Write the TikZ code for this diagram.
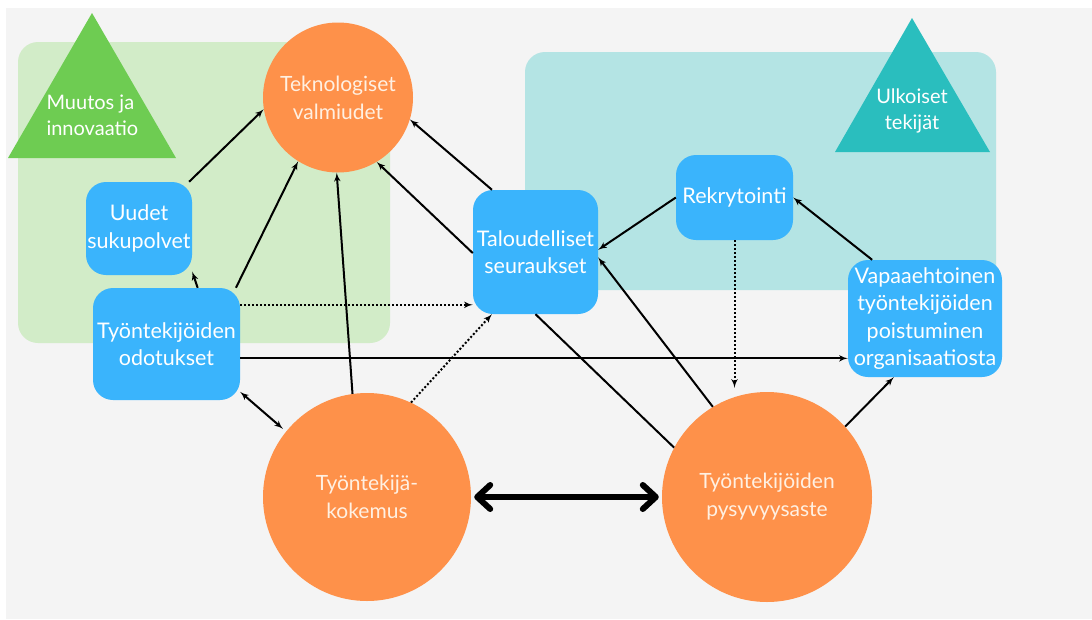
\documentclass[tikz,border=0pt]{standalone}
\usepackage{fontspec}
\setmainfont{Lato}
\usetikzlibrary{shapes,arrows,arrows.meta}

\definecolor{bggray}{RGB}{244,244,244}
\definecolor{areagreen}{RGB}{210,236,200}
\definecolor{areateal}{RGB}{180,228,228}
\definecolor{trigreen}{RGB}{110,204,82}
\definecolor{triteal}{RGB}{42,190,190}
\definecolor{boxblue}{RGB}{58,180,252}
\definecolor{bubbleorange}{RGB}{254,145,74}
\definecolor{bubbletext}{RGB}{255,240,226}

\tikzstyle{block} = [rectangle, fill=boxblue, text=white, rounded corners=20pt,
    align=center, inner sep=0pt, font=\fontsize{21.5}{27.5}\selectfont]
\tikzstyle{bubble} = [circle, fill=bubbleorange, text=bubbletext, align=center,
    inner sep=0pt, font=\fontsize{21}{28}\selectfont]
\tikzstyle{label} = [text=white, font=\fontsize{20}{26}\selectfont]
\tikzstyle{line} = [draw, line width=2pt, -latex']
\tikzstyle{dots} = [line, dotted]
\tikzstyle{both} = [draw, line width=2pt, latex'-latex']
\tikzstyle{bigline} = [draw, line width=6pt,
    {Straight Barb[round, length=13pt, width=24pt]}-{Straight Barb[round, length=13pt, width=24pt]}]

\begin{document}
\begin{tikzpicture}[x=1pt, y=-1pt]

        % Background and areas
        \useasboundingbox (0,0) rectangle (1092,619);
        \fill [white] (0,0) rectangle (1092,619);
        \fill [bggray] (6,8) rectangle (1092,619);
        \fill [areagreen, rounded corners=20pt] (18,42) rectangle (390,343);
        \fill [areateal, rounded corners=20pt] (525,52) rectangle (996,290);
        \fill [trigreen] (92,13) -- (176,158) -- (8,158) -- cycle;
        \fill [triteal] (912,18) -- (990,152) -- (835,152) -- cycle;
        \node [label, align=left, anchor=west] (muutos) at (43,115) {Muutos ja\\innovaatio};
        \node [label, align=center] (ulkoiset) at (912,111) {Ulkoiset\\tekijät};

        % Place nodes
        \node [bubble, minimum size=150pt] (tekno) at (338,97.5) {Teknologiset\\valmiudet};
        \node [block, minimum width=106pt, minimum height=93pt] (uudet) at (139,228.5) {Uudet\\sukupolvet};
        \node [block, minimum width=147pt, minimum height=112pt] (odotukset) at (166.5,344) {Työntekijöiden\\odotukset};
        \node [block, minimum width=125pt, minimum height=124pt] (talous) at (535.5,252) {Taloudelliset\\seuraukset};
        \node [block, minimum width=117pt, minimum height=85pt] (rekry) at (734.5,197.5) {Rekrytointi};
        \node [block, minimum width=154pt, minimum height=117pt] (vapaa) at (925,318.5)
            {Vapaaehtoinen\\työntekijöiden\\poistuminen\\organisaatiosta};
        \node [bubble, minimum size=208pt] (kokemus) at (367,497) {Työntekijä-\\kokemus};
        \node [bubble, minimum size=210pt, right of=kokemus, node distance=400pt] (pysyvyys) {Työntekijöiden\\pysyvyysaste};

        % Draw edges
        \path [line] (uudet.43) -- (tekno.189);
        \path [line] (odotukset.61) -- (uudet.-39);
        \path [line] (odotukset.39) -- (tekno.238);
        \path [line] (kokemus.98) -- (tekno.269);
        \path [line] (talous.181) -- (tekno.301);
        \path [line] (talous.125) -- (tekno.343);
        \path [dots] (odotukset.28) -- (odotukset.28 -| talous.west);
        \path [dots] (kokemus.65) -- (talous.235);
        \path [line] (odotukset.-11) -- (odotukset.-11 -| vapaa.west);
        \path [both, shorten >=4pt] (odotukset.-33) -- (kokemus.141);
        \path [draw, line width=2pt] (talous.south) -- (pysyvyys.152);
        \path [line] (pysyvyys.121) -- (talous.-5);
        \path [line] (rekry.west) -- (talous.2);
        \path [line] (vapaa.132) -- (rekry.east);
        \path [dots, shorten >=4pt] (rekry.south) -- (rekry.south |- pysyvyys.north);
        \path [line] (pysyvyys.42) -- (vapaa.242);
        \path [bigline, shorten <=3pt, shorten >=3pt] (kokemus) -- (pysyvyys);

\end{tikzpicture}
\end{document}
